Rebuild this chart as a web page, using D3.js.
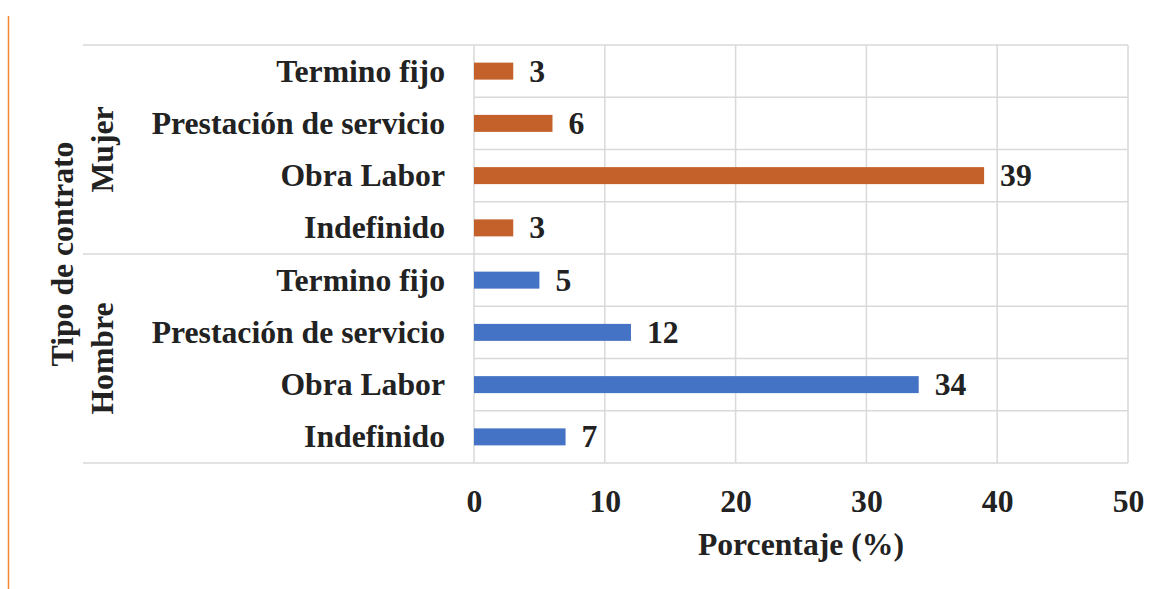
<!doctype html>
<html>
<head>
  <meta charset="utf-8">
  <script src="https://d3js.org/d3.v7.min.js"></script>
  <style>
    body { margin: 0; background: #fff; }
    text { font-family: "Liberation Serif", "Times New Roman", serif; font-weight: bold; fill: #222; }
  </style>
</head>
<body>
  <script>
    // data
    var categories = ["Indefinido", "Obra Labor", "Prestación de servicio", "Termino fijo"];
    var groups = ["Hombre", "Mujer"];
    var hombre = [7, 34, 12, 5];
    var mujer = [3, 39, 6, 3];
    var xTicks = [0, 10, 20, 30, 40, 50];

    var colors = { Mujer: "#C4612A", Hombre: "#4472C4" };

    // rows from top to bottom: Mujer first, then Hombre, categories reversed
    var rows = [];
    [["Mujer", mujer], ["Hombre", hombre]].forEach(function(g) {
      for (var i = categories.length - 1; i >= 0; i--) {
        rows.push({ group: g[0], cat: categories[i], value: g[1][i], key: g[0] + "|" + categories[i] });
      }
    });

    var width = 1162, height = 589;
    // plot box (don't use "top" as a global name, it clashes with window.top)
    var pLeft = 474, pRight = 1128, pTop = 45, pBottom = 463;
    var fs = 31.7;

    var svg = d3.select("body").append("svg")
      .attr("width", width)
      .attr("height", height);

    var x = d3.scaleLinear().domain([0, 50]).range([pLeft, pRight]);
    var y = d3.scaleBand()
      .domain(rows.map(function(d) { return d.key; }))
      .range([pTop, pBottom])
      .paddingInner(0.675)
      .paddingOuter(0.3375);
    var step = y.step();

    // orange side rule
    svg.append("line")
      .attr("x1", 8.5).attr("x2", 8.5)
      .attr("y1", 16).attr("y2", height)
      .attr("stroke", "#F4862F").attr("stroke-width", 1.5);

    var grid = svg.append("g").attr("stroke", "#D9D9D9").attr("stroke-width", 1.5);

    // vertical gridlines
    grid.selectAll(".vg").data(xTicks).enter().append("line")
      .attr("x1", function(d) { return x(d); })
      .attr("x2", function(d) { return x(d); })
      .attr("y1", pTop).attr("y2", pBottom);

    // row separators (short) and group separators (long)
    var bounds = d3.range(rows.length + 1);
    grid.selectAll(".hg").data(bounds).enter().append("line")
      .attr("x1", function(i) { return i % categories.length === 0 ? 83 : pLeft; })
      .attr("x2", pRight)
      .attr("y1", function(i) { return pTop + i * step; })
      .attr("y2", function(i) { return pTop + i * step; });

    // bars
    svg.selectAll(".bar").data(rows).enter().append("rect")
      .attr("x", x(0))
      .attr("y", function(d) { return y(d.key); })
      .attr("width", function(d) { return x(d.value) - x(0); })
      .attr("height", y.bandwidth())
      .attr("fill", function(d) { return colors[d.group]; });

    // value labels
    svg.selectAll(".val").data(rows).enter().append("text")
      .attr("x", function(d) { return x(d.value) + 16; })
      .attr("y", function(d) { return y(d.key) + y.bandwidth() / 2 + 10.5; })
      .attr("font-size", fs)
      .text(function(d) { return d.value; });

    // category labels
    svg.selectAll(".cat").data(rows).enter().append("text")
      .attr("x", 445)
      .attr("y", function(d) { return y(d.key) + y.bandwidth() / 2 + 10.5; })
      .attr("text-anchor", "end")
      .attr("font-size", fs)
      .text(function(d) { return d.cat; });

    // group labels
    var half = categories.length * step;
    svg.selectAll(".grp").data(["Mujer", "Hombre"]).enter().append("text")
      .attr("transform", function(d, i) { return "translate(113," + (pTop + half * i + half / 2) + ") rotate(-90)"; })
      .attr("text-anchor", "middle")
      .attr("font-size", fs)
      .text(function(d) { return d; });

    svg.append("text")
      .attr("transform", "translate(73," + (pTop + half) + ") rotate(-90)")
      .attr("text-anchor", "middle")
      .attr("font-size", fs)
      .text("Tipo de contrato");

    // x axis
    var axis = d3.axisBottom(x).tickValues(xTicks).tickSize(0).tickPadding(0);
    var ax = svg.append("g")
      .attr("transform", "translate(0," + pBottom + ")")
      .call(axis);
    ax.select(".domain").remove();
    ax.attr("font-family", null).attr("font-size", null);
    ax.selectAll("text")
      .attr("dy", null)
      .attr("y", 49)
      .attr("font-size", fs)
      .attr("fill", "#222");

    svg.append("text")
      .attr("x", (pLeft + pRight) / 2)
      .attr("y", 555)
      .attr("text-anchor", "middle")
      .attr("font-size", fs)
      .text("Porcentaje (%)");
  </script>
</body>
</html>
